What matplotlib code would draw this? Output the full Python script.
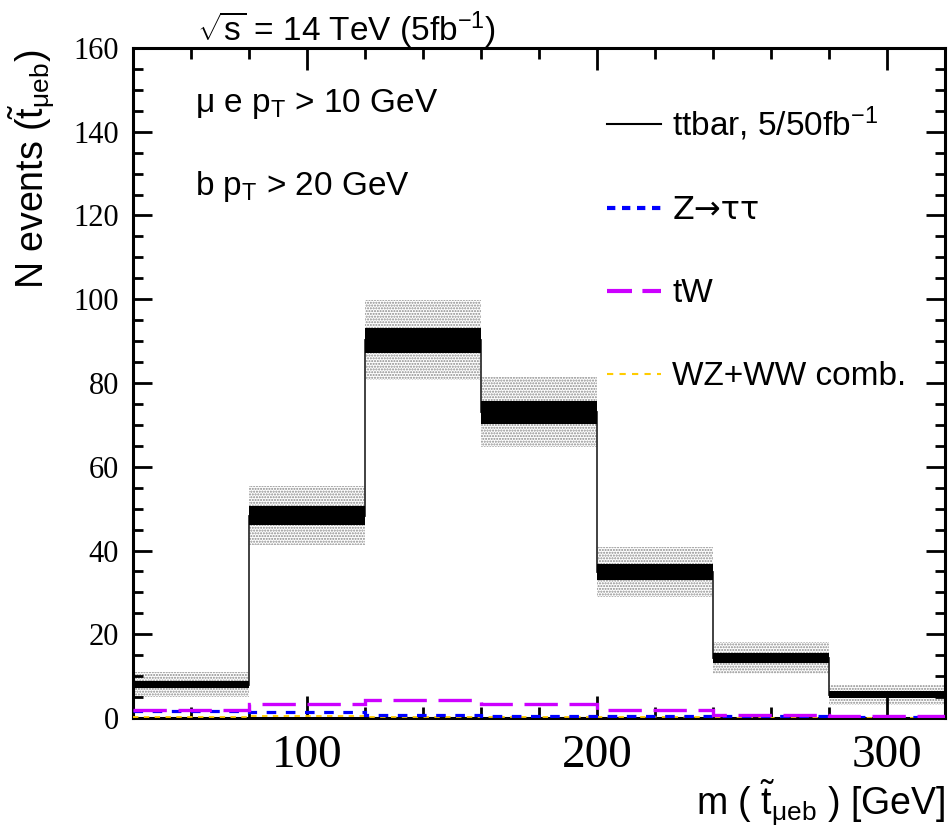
import numpy as np
import matplotlib
matplotlib.use("Agg")
import matplotlib.pyplot as plt
from matplotlib.lines import Line2D
from matplotlib.ticker import MultipleLocator

plt.rcParams['font.family'] = ['Liberation Sans', 'DejaVu Sans']
plt.rcParams['mathtext.fontset'] = 'custom'
plt.rcParams['mathtext.rm'] = 'Liberation Sans'
plt.rcParams['mathtext.it'] = 'Liberation Sans:italic'
plt.rcParams['hatch.linewidth'] = 1.0

# bin edges of the reconstructed stop mass [GeV]
edges = [40, 80, 120, 160, 200, 240, 280, 320]

# ttbar expectation per bin, with 50 fb^-1 (narrow) and 5 fb^-1 (wide) errors
ttbar = [8.0, 48.3, 90.2, 73.0, 34.8, 14.4, 5.6]
err_50fb = [0.9, 2.3, 3.0, 2.7, 1.9, 1.2, 0.8]
err_5fb = [2.9, 7.1, 9.6, 8.4, 6.0, 3.8, 2.4]

# backgrounds
ztautau = [1.6, 1.4, 0.7, 0.5, 0.5, 0.4, 0.3]
tw = [2.0, 3.4, 4.4, 3.4, 1.8, 0.8, 0.4]
diboson = [0.3, 0.4, 0.3, 0.3, 0.2, 0.1, 0.1]

edges = np.array(edges)
centers = 0.5 * (edges[1:] + edges[:-1])
widths = np.diff(edges)
ttbar = np.array(ttbar)
err_50fb = np.array(err_50fb)
err_5fb = np.array(err_5fb)

fig = plt.figure(figsize=(9.52, 8.30), dpi=100)
ax = fig.add_axes([0.1397, 0.1349, 0.8529, 0.8073])

# wide error band (dotted grey)
ax.bar(centers, 2 * err_5fb, bottom=ttbar - err_5fb, width=widths,
       facecolor='white', edgecolor='#8a8a8a', hatch='......', linewidth=0,
       zorder=1)
ax.stairs(ttbar, edges, color='#333333', linewidth=1.3, baseline=None, zorder=2)
# narrow error band (solid black)
ax.bar(centers, 2 * err_50fb, bottom=ttbar - err_50fb, width=widths,
       color='black', linewidth=0, zorder=3)

ax.stairs(diboson, edges, color='#ffcc00', linewidth=1.3, baseline=None,
          linestyle=(0, (3, 3)), zorder=4)
ax.stairs(ztautau, edges, color='#0000ff', linewidth=2.3, baseline=None,
          linestyle=(0, (3, 3)), zorder=5)
ax.stairs(tw, edges, color='#cc00ff', linewidth=2.4, baseline=None,
          linestyle=(0, (10, 3.5)), zorder=6)

ax.set_xlim(40, 320)
ax.set_ylim(0, 160)

ax.xaxis.set_major_locator(MultipleLocator(100))
ax.xaxis.set_minor_locator(MultipleLocator(20))
ax.yaxis.set_major_locator(MultipleLocator(20))
ax.yaxis.set_minor_locator(MultipleLocator(5))
ax.tick_params(which='both', direction='in', top=True, right=True, width=2)
ax.tick_params(axis='x', which='major', length=16, pad=12)
ax.tick_params(axis='x', which='minor', length=8)
ax.tick_params(axis='y', which='major', length=14, pad=10)
ax.tick_params(axis='y', which='minor', length=7)
for lab in ax.get_xticklabels():
    lab.set_fontfamily('Liberation Serif')
    lab.set_fontsize(34)
for lab in ax.get_yticklabels():
    lab.set_fontfamily('Liberation Serif')
    lab.set_fontsize(22)
for sp in ax.spines.values():
    sp.set_linewidth(2.2)

ax.set_ylabel(r'N events ($\tilde{\mathrm{t}}_{\mathrm{\mu eb}}$)', fontsize=27,
              ha='right', va='center')
ax.yaxis.set_label_coords(-0.124, 0.997)
ax.set_xlabel(r'm ( $\tilde{\mathrm{t}}_{\mathrm{\mu eb}}$ ) [GeV]', fontsize=27,
              ha='right', va='baseline')
ax.xaxis.set_label_coords(1.0, -0.146)

fig.text(197 / 952, 1 - 30 / 830, r'$\sqrt{\mathrm{s}}$ = 14 TeV (5fb$^{-1}$)',
         fontsize=24, va='center', ha='left')
ax.text(0.076, 0.904, r'μ e p$_{\mathrm{T}}$ > 10 GeV', transform=ax.transAxes,
        fontsize=24, va='baseline')
ax.text(0.076, 0.781, r'b p$_{\mathrm{T}}$ > 20 GeV', transform=ax.transAxes,
        fontsize=24, va='baseline')

handles = [
    Line2D([], [], color='black', linewidth=1.5),
    Line2D([], [], color='#0000ff', linewidth=3, linestyle=(0, (2, 1.6))),
    Line2D([], [], color='#cc00ff', linewidth=3, linestyle=(0, (6, 2.5))),
    Line2D([], [], color='#ffcc00', linewidth=1.5, linestyle=(0, (3, 3))),
]
labels = [r'ttbar, 5/50fb$^{-1}$', 'Z→ττ', 'tW', 'WZ+WW comb.']
leg = ax.legend(handles, labels, loc='upper left', bbox_to_anchor=(0.584, 0.915),
                frameon=False, fontsize=24, handlelength=1.6, handletextpad=0.35,
                labelspacing=1.56, borderpad=0, borderaxespad=0)
# DejaVu has a full-width arrow
leg.get_texts()[1].set_fontfamily(['DejaVu Sans'])
leg.get_texts()[1].set_fontsize(23)

fig.savefig('out.png', dpi=100)
